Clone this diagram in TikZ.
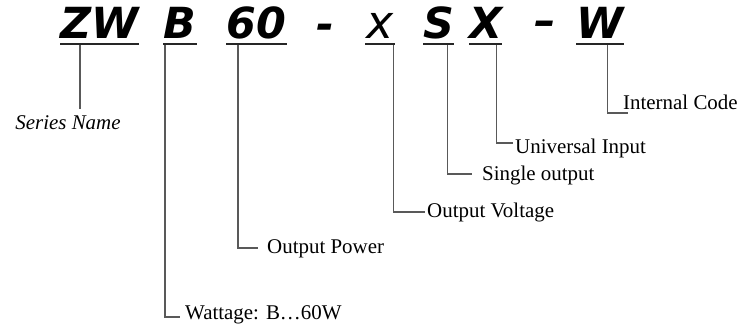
\documentclass[tikz,border=0pt]{standalone}
\usepackage{fontspec}
\setmainfont{Liberation Serif}
\newfontfamily\codefont{DejaVu Sans}
\usetikzlibrary{positioning}
\tikzset{
  code/.style={font=\codefont\bfseries\itshape\fontsize{43}{43}\selectfont,
    inner sep=0pt,anchor=south west},
  uline/.style={line width=2.6bp,black!85},
  lead/.style={line width=1.4bp,black!65},
  tag/.style={font=\fontsize{21}{21}\selectfont,inner sep=0pt,anchor=base west}
}

\begin{document}
\begin{tikzpicture}[x=1bp,y=-1bp,line cap=butt,line join=miter]
  \useasboundingbox (0,0) rectangle (751,327);

  % --- Model code ---
  \node[code,minimum width=77bp] (zw) at (60,39) {ZW};
  \node[code,minimum width=34bp] (b) at (163,39) {B};
  \node[code,minimum width=61bp] (sixty) at (226,39) {60};
  \node[code,anchor=center] (dasha) at (325,32) {-};
  \node[code,minimum width=30bp,
    font=\codefont\itshape\fontsize{46}{46}\selectfont] (vx) at (365,39) {x};
  \node[code,minimum width=30bp] (s) at (423,39) {S};
  \node[code,minimum width=32bp] (ux) at (469,39) {X};
  \node[code,anchor=center] (dashb) at (545,28) {–};
  \node[code,minimum width=47bp] (w) at (576,39) {W};

  % --- Underlines ---
  \foreach \n in {zw,b,sixty,vx,s,ux,w}
    \draw[uline] ([yshift=-5bp]\n.south west) -- ([yshift=-5bp]\n.south east);

  % --- Labels ---
  \node[tag,font=\itshape\fontsize{21}{21}\selectfont,inner ysep=6bp,
    anchor=north] (series) at (68,109) {Series Name};
  \node[tag] (wattage) at (185,319) {Wattage: B\ldots60W};
  \node[tag] (power) at (267,253) {Output Power};
  \node[tag] (voltage) at (427,217) {Output Voltage};
  \node[tag] (single) at (482,180) {Single output};
  \node[tag] (universal) at (515,153) {Universal Input};
  \node[tag] (internal) at (623,109) {Internal Code};

  % --- Leads ---
  \draw[lead] ([xshift=20bp,yshift=-6bp]zw.south west)
    -- ([xshift=20bp]zw.south west |- series.north);
  \draw[lead] ([xshift=2bp,yshift=-6bp]b.south west)
    |- ([xshift=-5bp,yshift=2bp]wattage.base west);
  \draw[lead] ([xshift=12bp,yshift=-6bp]sixty.south west)
    |- ([xshift=-9bp,yshift=5bp]power.base west);
  \draw[lead] ([xshift=-2bp,yshift=-6bp]vx.south east)
    |- ([xshift=-2bp,yshift=5bp]voltage.base west);
  \draw[lead] ([xshift=-7bp,yshift=-6bp]s.south east)
    |- ([xshift=-10bp,yshift=6bp]single.base west);
  \draw[lead] ([xshift=-6bp,yshift=-6bp]ux.south east)
    |- ([xshift=-2bp,yshift=10bp]universal.base west);
  \draw[lead] ([xshift=-16bp,yshift=-6bp]w.south east)
    |- ([xshift=5bp,yshift=-4bp]internal.base west);

\end{tikzpicture}
\end{document}
